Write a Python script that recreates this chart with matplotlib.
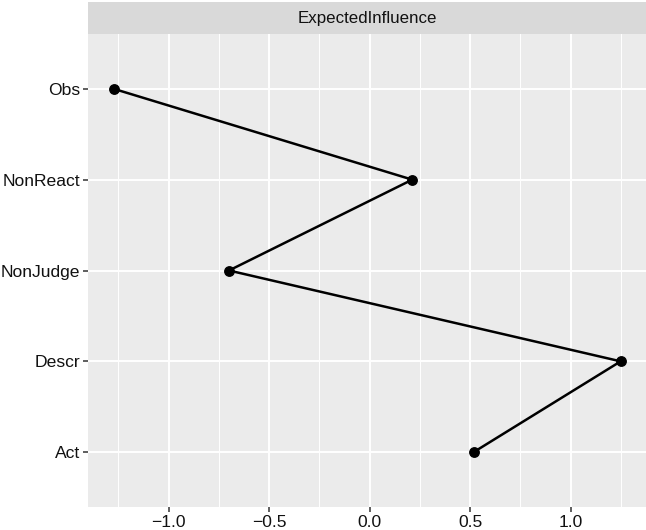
import numpy as np
import matplotlib
matplotlib.use("Agg")
import matplotlib.pyplot as plt
from matplotlib.ticker import MultipleLocator

plt.rcParams['font.family'] = ['Liberation Sans', 'DejaVu Sans']

# centrality values (ExpectedInfluence, z-scored)
nodes = ["Obs", "NonReact", "NonJudge", "Descr", "Act"]
values = [-1.274, 0.212, -0.700, 1.249, 0.517]
strip_title = "ExpectedInfluence"

W, H = 646, 530
fig = plt.figure(figsize=(W / 100, H / 100), dpi=100)

left, right = 88.3, 646
top, bottom = 34.3, 506.7
ax = fig.add_axes([left / W, (H - bottom) / H, (right - left) / W, (bottom - top) / H])

ypos = np.arange(len(nodes))
ax.set_facecolor("#EBEBEB")
ax.plot(values, ypos, color="black", linewidth=1.8, zorder=3)
ax.plot(values, ypos, "o", color="black", markersize=6.8, zorder=4)

ax.margins(x=0.05)
ax.set_ylim(len(nodes) - 1 + 0.6, -0.6)
ax.set_yticks(ypos)
ax.set_yticklabels(nodes)
ax.xaxis.set_minor_locator(MultipleLocator(0.25))
ax.set_xticks([-1.0, -0.5, 0.0, 0.5, 1.0])
ax.set_xticklabels(["\u22121.0", "\u22120.5", "0.0", "0.5", "1.0"])

ax.grid(which="major", color="white", linewidth=1.4, zorder=0)
ax.grid(which="minor", axis="x", color="white", linewidth=0.7, zorder=0)
ax.set_axisbelow(True)
for s in ax.spines.values():
    s.set_visible(False)
ax.tick_params(which="major", length=3.5, width=1.1, color="#333333",
               labelsize=12.6, labelcolor="#111111", pad=2.5)
ax.tick_params(which="minor", length=0)

# facet strip
sax = fig.add_axes([left / W, (H - top) / H, (right - left) / W, (top - 2.3) / H])
sax.set_facecolor("#D9D9D9")
sax.set_xticks([])
sax.set_yticks([])
for s in sax.spines.values():
    s.set_visible(False)
sax.text(0.5, 0.5, strip_title, ha="center", va="center", fontsize=12.2,
         color="#111111", transform=sax.transAxes)

fig.savefig("out.png", dpi=100)
